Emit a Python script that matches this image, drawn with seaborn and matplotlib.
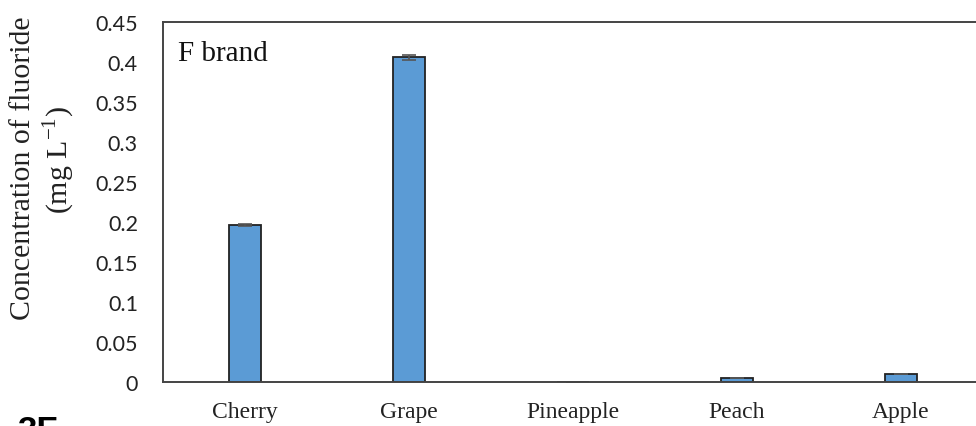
import numpy as np
import pandas as pd
import matplotlib
matplotlib.use("Agg")
import matplotlib.pyplot as plt
import seaborn as sns

# Fluoride concentration per juice flavour (F brand)
flavours = ["Cherry", "Grape", "Pineapple", "Peach", "Apple"]
fluoride = [0.196, 0.406, 0.0, 0.0044, 0.0098]
fluoride_sd = [0.001, 0.003, 0.0, 0.0, 0.0]
y_ticks = [0, 0.05, 0.1, 0.15, 0.2, 0.25, 0.3, 0.35, 0.4, 0.45]
y_tick_labels = ["0", "0.05", "0.1", "0.15", "0.2", "0.25", "0.3", "0.35", "0.4", "0.45"]

df = pd.DataFrame({"flavour": flavours, "fluoride": fluoride})

sns.set_theme(style="white")
plt.rcParams["font.family"] = ["DejaVu Sans"]

fig = plt.figure(figsize=(9.76, 4.27), dpi=100)
ax = fig.add_axes([163 / 976, 44 / 427, 820 / 976, 360 / 427])

sns.barplot(data=df, x="flavour", y="fluoride", order=flavours,
            color="#5B9BD5", width=0.2, edgecolor="#222222", linewidth=1.3,
            errorbar=None, saturation=1, ax=ax)
ax.errorbar(np.arange(len(flavours)), fluoride, yerr=fluoride_sd, fmt="none",
            ecolor="#555555", elinewidth=1.2, capsize=5, capthick=1.2)

ax.set_xlim(-0.5, 4.5)
ax.set_ylim(0, 0.45)
ax.set_yticks(y_ticks)
ax.set_yticklabels(y_tick_labels, fontfamily="Lato", fontsize=15.5, color="#222222")
ax.set_xticks(np.arange(len(flavours)))
ax.set_xticklabels(flavours, fontfamily="Liberation Serif", fontsize=17, color="#222222")
ax.tick_params(axis="y", length=0, pad=18)
ax.tick_params(axis="x", length=0, pad=14)
ax.set_xlabel("")
ax.set_ylabel("")

for side in ["left", "bottom", "top", "right"]:
    ax.spines[side].set_visible(True)
    ax.spines[side].set_color("#444444")
    ax.spines[side].set_linewidth(1.4)
ax.grid(False)

ax.text(0.018, 0.915, "F brand", transform=ax.transAxes, fontfamily="Liberation Serif",
        fontsize=21, color="#111111", va="center", ha="left")

fig.text(23 / 976, 1 - 168 / 427, "Concentration of fluoride", rotation=90,
         fontfamily="Liberation Serif", fontsize=21.5, color="#222222",
         ha="center", va="center")
fig.text(59 / 976, 1 - 160 / 427, "(mg L$^{\\mathregular{-1}}$)", rotation=90,
         fontfamily="Liberation Serif", fontsize=21.5, color="#222222",
         ha="center", va="center")

fig.text(17 / 976, -0.033, "3F", fontfamily="Liberation Sans", fontweight="bold",
         fontsize=25, color="#000000", ha="left", va="baseline")

fig.savefig("out.png", dpi=100)
